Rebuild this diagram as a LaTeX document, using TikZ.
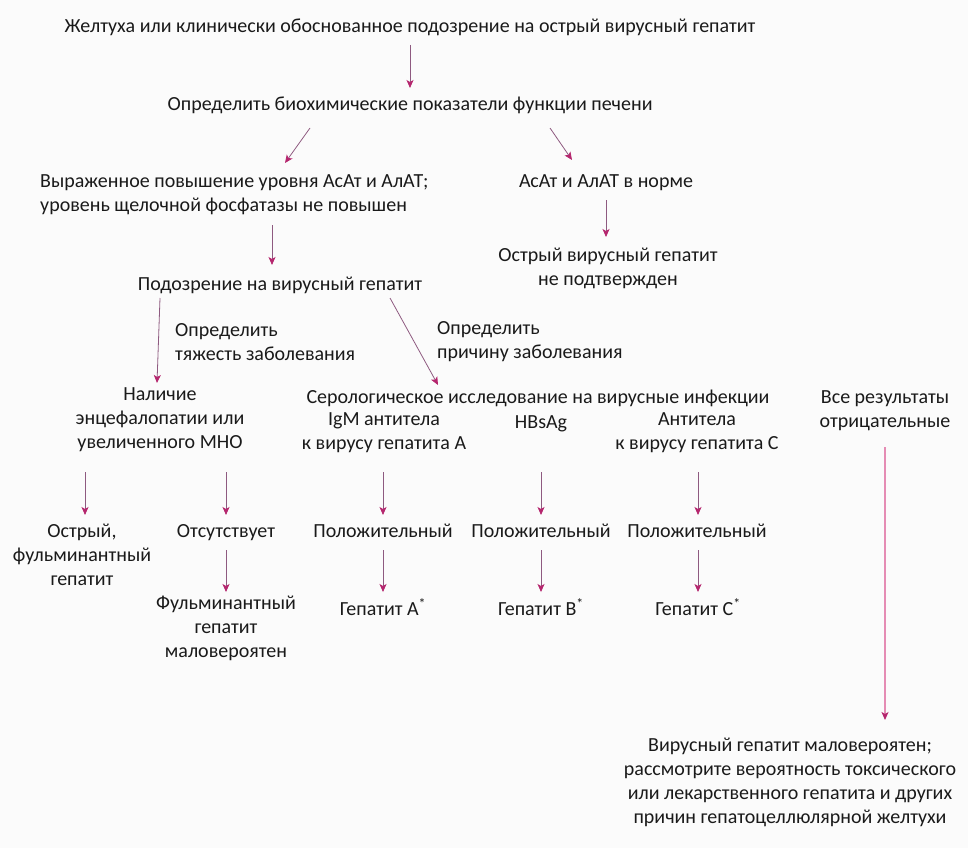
\documentclass[tikz,border=0pt]{standalone}
\usepackage{fontspec}
\setmainfont{Carlito}
\usetikzlibrary{arrows.meta,calc}
\definecolor{shaft}{HTML}{8E5A80}
\definecolor{headc}{HTML}{B5266E}
\definecolor{pinkline}{HTML}{E58CB4}
\definecolor{txt}{HTML}{1A1A1A}
\definecolor{bg}{HTML}{FBFBFB}
\begin{document}
\begin{tikzpicture}[x=1pt,y=-1pt,
  lbl/.style={inner sep=0pt,align=center,text=txt,font=\fontsize{20}{24}\selectfont},
  lbll/.style={lbl,align=left,anchor=west},
  arr/.style={draw=shaft,line width=0.8pt,-{Stealth[length=8pt,width=7pt,inset=2pt,color=headc]}},
  arrp/.style={draw=pinkline,line width=1.2pt,-{Stealth[length=8pt,width=7pt,inset=2pt,color=headc]}}]
\fill[bg] (0,0) rectangle (968,848);
\useasboundingbox (0,0) rectangle (968,848);
\node[lbl] (t1) at (410,27) {Желтуха или клинически обоснованное подозрение на острый вирусный гепатит};
\node[lbl] (t2) at (410,105) {Определить биохимические показатели функции печени};
\node[lbll] (t3) at (40,195) {Выраженное повышение уровня АсАт и АлАТ;\\уровень щелочной фосфатазы не повышен};
\node[lbl] (t4) at (606,183) {АсАт и АлАТ в норме};
\node[lbl] (t5) at (608,268) {Острый вирусный гепатит\\не подтвержден};
\node[lbl] (t6) at (280,285) {Подозрение на вирусный гепатит};
\node[lbll] (t7) at (175,342) {Определить\\тяжесть заболевания};
\node[lbll] (t8) at (437,342) {Определить\\причину заболевания};
\node[lbl] (t9) at (160,420) {Наличие\\энцефалопатии или\\увеличенного МНО};
\node[lbl] (t10) at (538,398) {Серологическое исследование на вирусные инфекции};
\node[lbl] (t11) at (384,433) {IgM антитела\\к вирусу гепатита А};
\node[lbl] (t12) at (541,424) {HBsAg};
\node[lbl] (t13) at (697,433) {Антитела\\к вирусу гепатита С};
\node[lbl] (t14) at (885,411) {Все результаты\\отрицательные};
\node[lbl] (t15) at (82,555) {Острый,\\фульминантный\\гепатит};
\node[lbl] (t16) at (226,533) {Отсутствует};
\node[lbl] (t17) at (383,531) {Положительный};
\node[lbl] (t18) at (541,531) {Положительный};
\node[lbl] (t19) at (697,531) {Положительный};
\node[lbl] (t20) at (226,628) {Фульминантный\\гепатит\\маловероятен};
\node[lbl] (t21) at (383,607) {Гепатит А\textsuperscript{*}};
\node[lbl] (t22) at (541,607) {Гепатит В\textsuperscript{*}};
\node[lbl] (t23) at (698,607) {Гепатит С\textsuperscript{*}};
\node[lbl] (t24) at (790,782) {Вирусный гепатит маловероятен;\\рассмотрите вероятность токсического\\или лекарственного гепатита и других\\причин гепатоцеллюлярной желтухи};
\draw[arr] ($(t1)+(0,18)$) -- ($(t2)+(0,-17)$);
\draw[arr] ($(t2)+(-100,23)$) -- ($(t3.west)+(245,-32)$);
\draw[arr] ($(t2)+(140,23)$) -- ($(t4)+(-34,-23)$);
\draw[arr] ($(t4)+(0,17)$) -- ($(t5)+(-2,-31)$);
\draw[arr] ($(t3.west)+(232,30)$) -- ($(t6)+(-8,-20)$);
\draw[arr] ($(t6)+(-120,13)$) -- ($(t9)+(-3,-37)$);
\draw[arr] ($(t6)+(110,13)$) -- ($(t10)+(-100,-13)$);
\draw[arr] ($(t9)+(-75,52)$) -- ($(t15)+(3,-40)$);
\draw[arr] ($(t9)+(66,52)$) -- ($(t16)+(0,-18)$);
\draw[arr] ($(t11)+(-1,39)$) -- ($(t17)+(0,-16)$);
\draw[arr] ($(t12)+(0,48)$) -- ($(t18)+(0,-16)$);
\draw[arr] ($(t13)+(1,39)$) -- ($(t19)+(1,-16)$);
\draw[arr] ($(t16)+(0,17)$) -- ($(t20)+(0,-36)$);
\draw[arr] ($(t17)+(0,19)$) -- ($(t21)+(0,-15)$);
\draw[arr] ($(t18)+(0,19)$) -- ($(t22)+(0,-15)$);
\draw[arr] ($(t19)+(1,19)$) -- ($(t23)+(0,-15)$);
\draw[arrp] ($(t14)+(0,36)$) -- ($(t24)+(95,-62)$);
\end{tikzpicture}
\end{document}
